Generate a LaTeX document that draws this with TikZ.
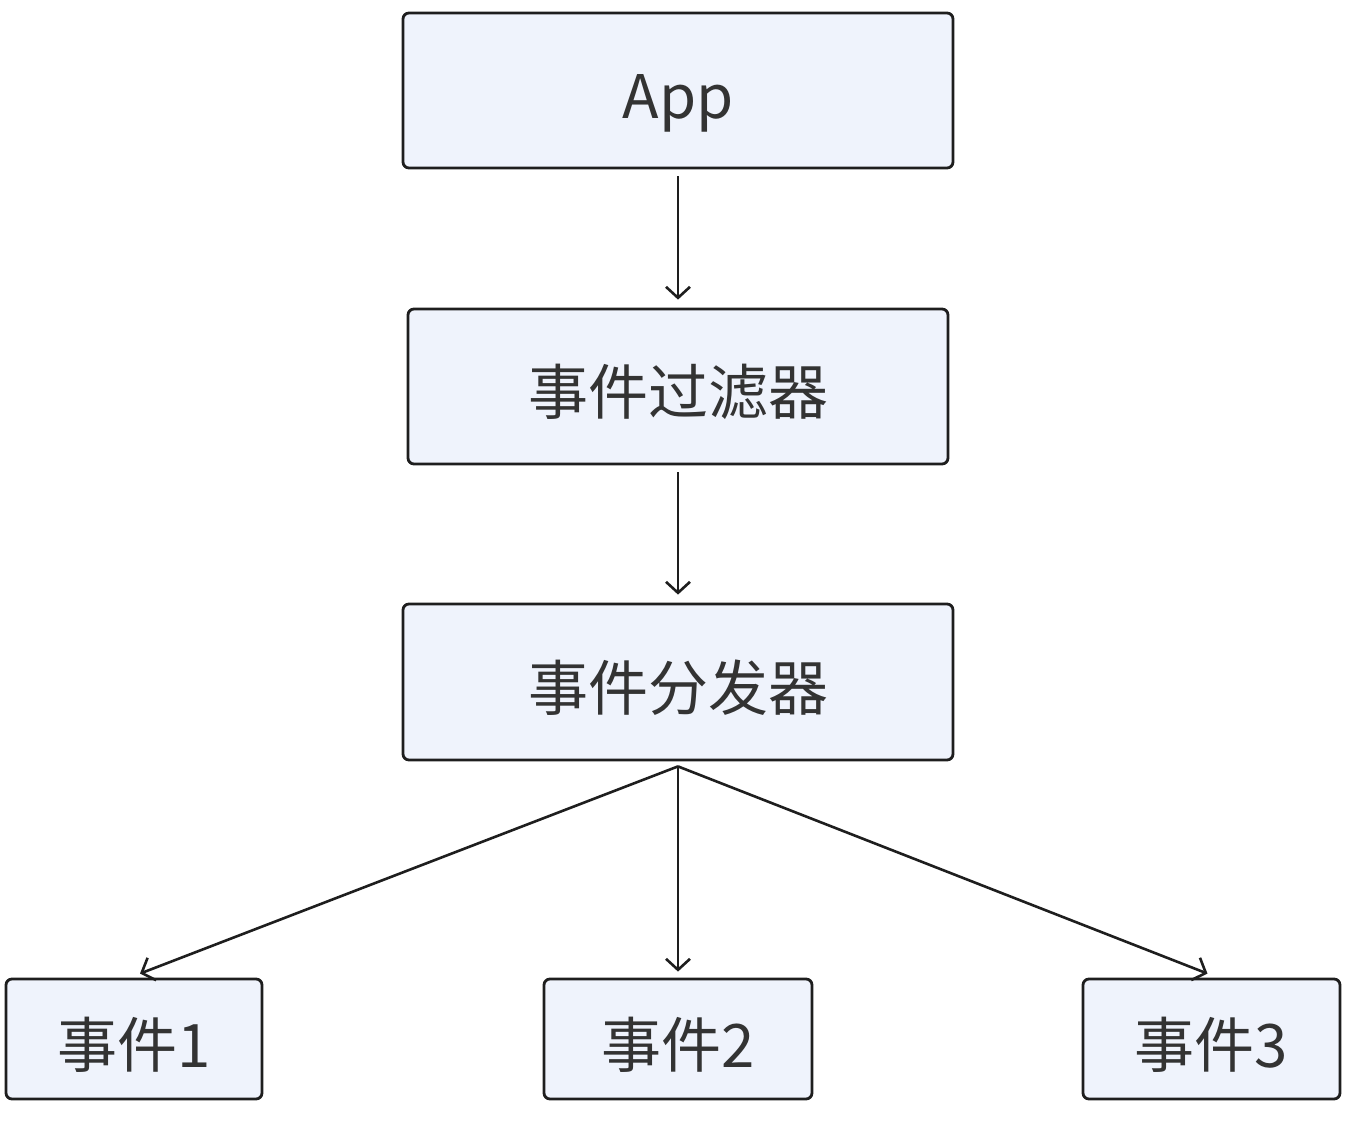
\documentclass[tikz,border=0pt]{standalone}
\usepackage{fontspec}
\setmainfont{Noto Sans CJK SC}
\usetikzlibrary{arrows.meta}
\definecolor{boxfill}{HTML}{EFF3FC}
\definecolor{boxline}{HTML}{1E1E1E}
\definecolor{txt}{HTML}{333333}
\begin{document}
\begin{tikzpicture}[x=1pt,y=-1pt,
  box/.style={draw=boxline,fill=boxfill,line width=2.8pt,rounded corners=6pt,
    text=txt,font=\fontsize{60}{70}\selectfont,inner sep=0pt,text height=60pt,text depth=4pt},
  conn/.style={draw=boxline,line width=2.6pt,-{Straight Barb[length=11pt,width=24pt,line width=2.6pt]}}]
\useasboundingbox (0,0) rectangle (1361,1123);
\node[box,minimum width=550pt,minimum height=155pt] (app) at (678,90.5) {App};
\node[box,minimum width=540pt,minimum height=155pt] (filt) at (678,386.5) {事件过滤器};
\node[box,minimum width=550pt,minimum height=156pt] (disp) at (678,682) {事件分发器};
\node[box,minimum width=256pt,minimum height=120pt] (e1) at (134,1039) {事件1};
\node[box,minimum width=268pt,minimum height=120pt] (e2) at (678,1039) {事件2};
\node[box,minimum width=257pt,minimum height=120pt] (e3) at (1211.5,1039) {事件3};
\draw[conn,shorten <=7pt,shorten >=8pt] (app.south) -- (filt.north);
\draw[conn,shorten <=7pt,shorten >=8pt] (filt.south) -- (disp.north);
\coordinate (ds) at ([yshift=-5pt]disp.south);
\draw[conn] (ds) -- ([xshift=6pt,yshift=4pt]e1.north);
\draw[conn] (ds) -- ([yshift=6pt]e2.north);
\draw[conn] (ds) -- ([xshift=-4pt,yshift=4pt]e3.north);
\end{tikzpicture}
\end{document}
